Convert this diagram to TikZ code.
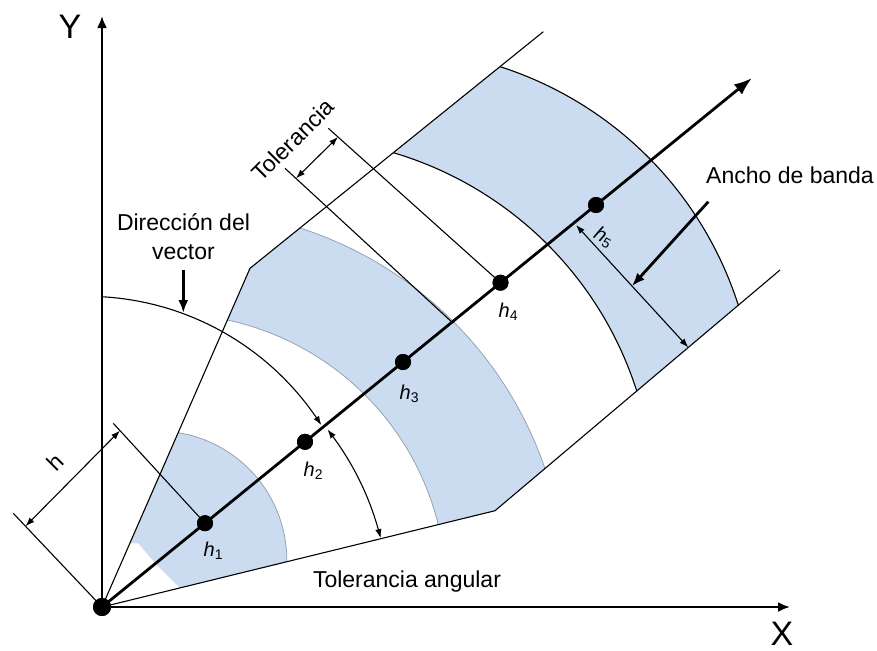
\documentclass[tikz,border=0pt]{standalone}
\usepackage{fontspec}
\setmainfont{Liberation Sans}
\usetikzlibrary{arrows.meta,calc}
\definecolor{bandfill}{RGB}{203,220,240}
\definecolor{bandedge}{RGB}{150,162,178}
\begin{document}
\begin{tikzpicture}[x=0.5pt,y=-0.5pt,
  thinline/.style={line width=0.55pt},
  axisline/.style={line width=1.1pt,-{Latex[length=6pt,width=5pt]}},
  mainline/.style={line width=1.4pt,-{Latex[length=9pt,width=6.5pt]}},
  dimarrow/.style={line width=0.55pt,{Latex[length=4.5pt,width=3.2pt]}-{Latex[length=4.5pt,width=3.2pt]}},
  onearrow/.style={line width=0.55pt,{Latex[length=4.5pt,width=3.2pt]}-},
  pointer/.style={line width=1.4pt,-{Latex[length=6.5pt,width=5pt]}},
  dot/.style={circle,fill=black,inner sep=0pt,minimum size=8pt},
  bigdot/.style={circle,fill=black,inner sep=0pt,minimum size=9pt},
  lab/.style={font=\fontsize{11.5}{14.5}\selectfont,inner sep=0pt},
  hlab/.style={font=\fontsize{10}{12}\selectfont,inner sep=0pt,anchor=base west},
  axlab/.style={font=\fontsize{17}{20}\selectfont,inner sep=0pt},
  bandline/.style={draw=bandedge,line width=0.4pt},
  blackedge/.style={draw=black,line width=0.55pt}
]
\useasboundingbox (0,0) rectangle (877,650);

% key coordinates
\coordinate (Oc) at (102,607);
\coordinate (Ytip) at (102,16);
\coordinate (Xtip) at (790,607);
\coordinate (V) at (752,78);
\coordinate (UA) at (250,268.3);
\coordinate (UB) at (543.3,31.7);
\coordinate (LA) at (495,510.7);
\coordinate (LB) at (780,270);

% band 1
\fill[bandfill] (129.8,543.3) -- (178.2,432.6)
  -- plot[domain=80.8:-0.7,samples=50] ({157.6+129.2*cos(\x)},{560.2-129.2*sin(\x)})
  -- (180,587.9) -- plot[smooth] coordinates {(180,587.9) (157,565) (138.3,543.3)} -- cycle;
\draw[bandline] plot[domain=80.8:-0.7,samples=50] ({157.6+129.2*cos(\x)},{560.2-129.2*sin(\x)});

% band 3
\fill[bandfill] (227.4,320) -- (UA) -- (299.7,227.9)
  -- plot[domain=72.2:18.9,samples=60] ({182.8+382.8*cos(\x)},{592.4-382.8*sin(\x)})
  -- (LA) -- (438.3,524.6)
  -- plot[domain=13.9:77.85,samples=60] ({169+277.4*cos(\x)},{591.2-277.4*sin(\x)}) -- cycle;
\draw[bandline] plot[domain=72.2:18.9,samples=60] ({182.8+382.8*cos(\x)},{592.4-382.8*sin(\x)});
\draw[bandline] plot[domain=13.9:77.85,samples=60] ({169+277.4*cos(\x)},{591.2-277.4*sin(\x)});

% band 5
\fill[bandfill] (393.4,152.7) -- (500.1,66.6)
  -- plot[domain=72.2:17.7,samples=60] ({387.5+368.3*cos(\x)},{417.3-368.3*sin(\x)})
  -- (636.8,391)
  -- plot[domain=17.7:73.5,samples=60] ({290+364*cos(\x)},{501.7-364*sin(\x)}) -- cycle;
\draw[blackedge] plot[domain=72.2:17.7,samples=60] ({387.5+368.3*cos(\x)},{417.3-368.3*sin(\x)});
\draw[blackedge] plot[domain=17.7:73.5,samples=60] ({290+364*cos(\x)},{501.7-364*sin(\x)});

% dots (named)
\node[bigdot] (O) at (Oc) {};
\node[dot] (h1) at (205,523.2) {};
\node[dot] (h2) at (305,441.8) {};
\node[dot] (h3) at (403,362.0) {};
\node[dot] (h4) at (500.5,282.7) {};
\node[dot] (h5) at (596,205.0) {};

% search area outline
\draw[thinline] (Oc) -- (UA) -- (UB);
\draw[thinline] (Oc) -- (LA) -- (LB);

% lag tolerance
\coordinate (T1a) at (285,168.3);
\coordinate (T1b) at (452,322.2);
\coordinate (T2a) at (328.3,128.3);
\coordinate (D1) at (296,178.4);
\coordinate (D2) at (338,137);
\draw[thinline] (T1a) -- (T1b);
\draw[thinline] (T2a) -- (h4.center);
\draw[dimarrow] (D1) -- (D2);

% lag h
\coordinate (HE0) at (13.3,513.3);
\coordinate (HE1) at (113.3,423.3);
\coordinate (HD0) at (25.5,526.2);
\coordinate (HD1) at (120,430.6);
\draw[thinline] (Oc) -- (HE0);
\draw[thinline] (h1.center) -- (HE1);
\draw[dimarrow] (HD0) -- (HD1);

% bandwidth
\coordinate (AD1) at (576,225);
\coordinate (AD2) at (688.3,347.4);
\coordinate (AP1) at (708.3,201.7);
\coordinate (AP2) at (632,286);
\draw[dimarrow] (AD1) -- (AD2);
\draw[pointer] (AP1) -- (AP2);

% angular arcs
\draw[onearrow] plot[domain=32.5:86.9,samples=60] ({86.6+278.3*cos(\x)},{574.6-278.3*sin(\x)});
\draw[dimarrow] plot[domain=13.9:38.2,samples=50] ({102+287*cos(\x)},{607-287*sin(\x)});

% direction pointer
\coordinate (DP1) at (183.3,270);
\coordinate (DP2) at (183.3,313);
\draw[pointer] (DP1) -- (DP2);

% axes and main vector
\draw[axisline] (Oc) -- (Ytip);
\draw[axisline] (Oc) -- (Xtip);
\draw[mainline] (Oc) -- (V);
\node[bigdot] at (Oc) {};
\foreach \p in {h1,h2,h3,h4,h5} {\node[dot] at (\p) {};}

% labels
\node[axlab] (ylab) at (70,27) {Y};
\node[axlab] (xlab) at (782,634) {X};
\node[lab,align=center] (dirlab) at (183.5,237) {Dirección del\\vector};
\node[lab,anchor=base] (tolang) at (407,587.3) {Tolerancia angular};
\node[lab,rotate=45] (tollab) at (293,140) {Tolerancia};
\node[lab,rotate=45] (hlabel) at (55,462) {h};
\node[lab] (ancho) at (790,175) {Ancho de banda};
\node[hlab] (l1) at (203.3,556.7) {\itshape h\textsubscript{\upshape 1}};
\node[hlab] (l2) at (303.3,476.7) {\itshape h\textsubscript{\upshape 2}};
\node[hlab] (l3) at (399.3,399.5) {\itshape h\textsubscript{\upshape 3}};
\node[hlab] (l4) at (498.3,317) {\itshape h\textsubscript{\upshape 4}};
\node[font=\fontsize{10}{12}\selectfont,inner sep=0pt,rotate=-30] (l5) at (604,237.5) {\itshape h\textsubscript{\upshape 5}};
\end{tikzpicture}
\end{document}
